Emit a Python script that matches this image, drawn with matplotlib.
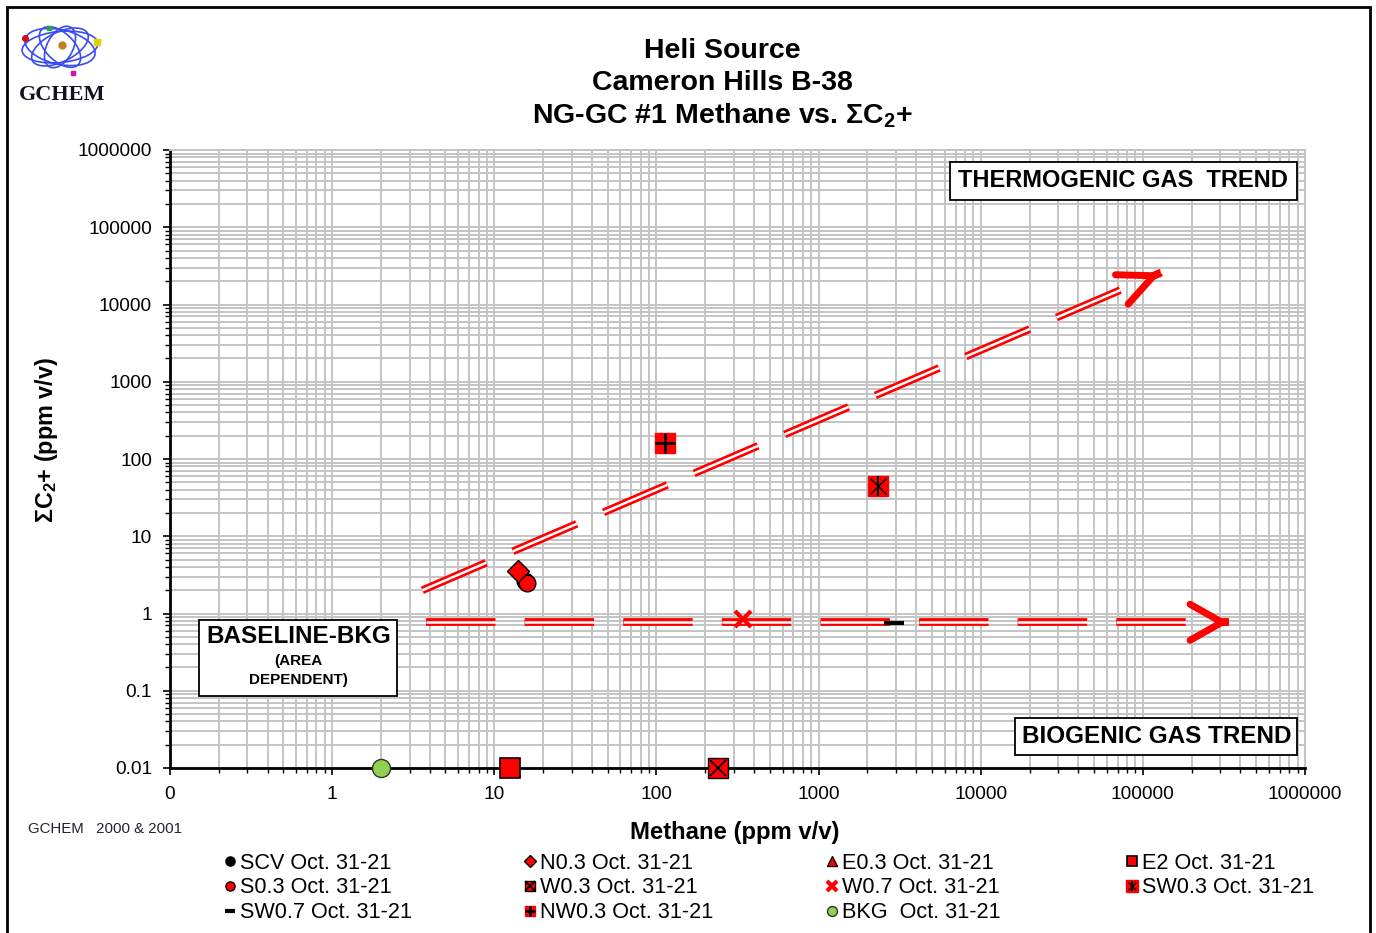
import matplotlib
matplotlib.use("Agg")
import matplotlib.pyplot as plt
import numpy as np
from matplotlib.patches import Rectangle, Ellipse
from matplotlib.ticker import FixedLocator, LogLocator, NullFormatter

plt.rcParams['font.family'] = ['Liberation Sans', 'DejaVu Sans']
plt.rcParams['mathtext.fontset'] = 'custom'
plt.rcParams['mathtext.rm'] = 'Liberation Sans'
plt.rcParams['mathtext.bf'] = 'Liberation Sans:bold'
plt.rcParams['lines.scale_dashes'] = False

# ---- data
scv_x, scv_y = [15.5], [2.6]
s03_x, s03_y = [15.9], [2.45]
sw07_x, sw07_y = [2900], [0.75]
n03_x, n03_y = [14.0], [3.5]
w03_x, w03_y = [240], [0.01]
nw03_x, nw03_y = [113], [160]
e03_x, e03_y = [12.8], [0.01]
w07_x, w07_y = [340], [0.85]
bkg_x, bkg_y = [2.0], [0.01]
e2_x, e2_y = [12.5], [0.01]
sw03_x, sw03_y = [2330], [45]

thermo_x, thermo_y = [3.6, 130000], [2.0, 26000]
bio_x, bio_y = [3.8, 340000], [0.77, 0.77]

xticks = [0.1, 1, 10, 100, 1000, 10000, 100000, 1000000]
xlabels = ['0', '1', '10', '100', '1000', '10000', '100000', '1000000']
yticks = [0.01, 0.1, 1, 10, 100, 1000, 10000, 100000, 1000000]
ylabels = ['0.01', '0.1', '1', '10', '100', '1000', '10000', '100000', '1000000']

RED = '#ff0000'

fig = plt.figure(figsize=(13.76, 9.33), dpi=100)
ax = fig.add_axes([170/1376, 1-768/933, 1135/1376, 618/933])

ax.set_xscale('log')
ax.set_yscale('log')
ax.set_xlim(0.1, 1e6)
ax.set_ylim(0.01, 1e6)

ax.xaxis.set_major_locator(FixedLocator(xticks))
ax.yaxis.set_major_locator(FixedLocator(yticks))
ax.xaxis.set_minor_locator(LogLocator(base=10, subs=np.arange(2, 10), numticks=100))
ax.yaxis.set_minor_locator(LogLocator(base=10, subs=np.arange(2, 10), numticks=100))
ax.xaxis.set_minor_formatter(NullFormatter())
ax.yaxis.set_minor_formatter(NullFormatter())
ax.set_xticklabels(xlabels)
ax.set_yticklabels(ylabels)
ax.tick_params(which='major', direction='out', length=5, width=1.2, labelsize=13.8, pad=8)
ax.tick_params(which='minor', direction='out', length=3.5, width=1.0)
ax.grid(which='both', color='#c4c4c4', lw=1.4)
ax.set_axisbelow(True)
for s in ['left', 'bottom']:
    ax.spines[s].set_linewidth(2)
for s in ['top', 'right']:
    ax.spines[s].set_color('#c4c4c4')
    ax.spines[s].set_linewidth(1.4)

# trend lines (double red dashed)
for lx, ly in [(thermo_x, thermo_y), (bio_x, bio_y)]:
    ax.plot(lx, ly, color=RED, lw=5.6, dashes=(50, 21), dash_capstyle='butt', zorder=3)
    ax.plot(lx, ly, color='white', lw=1.8, dashes=(50, 21), dash_capstyle='butt', zorder=3)

def arrow_head(lx, ly, hl, hw):
    lx0, lx1 = np.log10(lx)
    ly0, ly1 = np.log10(ly)
    t = 0.995
    src = (10**(lx0 + t*(lx1-lx0)), 10**(ly0 + t*(ly1-ly0)))
    ax.annotate('', xy=(lx[1], ly[1]), xytext=src,
                arrowprops=dict(arrowstyle='->,head_length=%g,head_width=%g' % (hl, hw),
                                lw=5, color=RED, shrinkA=0, shrinkB=0,
                                mutation_scale=10, capstyle='round', joinstyle='round'),
                zorder=3)

arrow_head(thermo_x, thermo_y, 2.5, 1.15)
arrow_head(bio_x, bio_y, 2.3, 1.3)

# samples
ek = dict(ls='none', clip_on=False, zorder=5)
h_scv, = ax.plot(scv_x, scv_y, marker='o', ms=12, mfc='black', mec='black', **ek)
h_s03, = ax.plot(s03_x, s03_y, marker='o', ms=12, mfc=RED, mec='black', mew=1, **ek)
h_sw07, = ax.plot(sw07_x, sw07_y, marker='_', ms=14, mec='black', mew=3, **ek)
h_n03, = ax.plot(n03_x, n03_y, marker='D', ms=11, mfc=RED, mec='black', mew=1, **ek)
h_e03, = ax.plot(e03_x, e03_y, marker='^', ms=12, mfc=RED, mec='black', mew=1, **ek)
h_w03a, = ax.plot(w03_x, w03_y, marker='s', ms=14, mfc=RED, mec='black', mew=1, **ek)
h_w03b, = ax.plot(w03_x, w03_y, marker='x', ms=12, mec='black', mew=1.2, **ek)
h_nw03a, = ax.plot(nw03_x, nw03_y, marker='s', ms=14, mfc=RED, mec=RED, **ek)
h_nw03b, = ax.plot(nw03_x, nw03_y, marker='+', ms=14, mec='black', mew=2, **ek)
h_w07, = ax.plot(w07_x, w07_y, marker='x', ms=12, mec=RED, mew=3, **ek)
h_bkg, = ax.plot(bkg_x, bkg_y, marker='o', ms=13, mfc='#92d050', mec='#333333', mew=1, **ek)
h_e2, = ax.plot(e2_x, e2_y, marker='s', ms=14, mfc=RED, mec='black', mew=1.2, **ek)
h_sw03a, = ax.plot(sw03_x, sw03_y, marker='s', ms=14.5, mfc=RED, mec=RED, **ek)
h_sw03b, = ax.plot(sw03_x, sw03_y, marker='x', ms=11, mec='black', mew=1, **ek)
h_sw03c, = ax.plot(sw03_x, sw03_y, marker='|', ms=14, mec='black', mew=1.5, **ek)

# annotation boxes
ax.add_patch(Rectangle((0.687, 0.919), 0.306, 0.062, transform=ax.transAxes,
                       fc='white', ec='black', lw=1.3, zorder=6))
ax.text(0.840, 0.950, 'THERMOGENIC GAS  TREND', transform=ax.transAxes, ha='center',
        va='center', fontsize=17, fontweight='bold', zorder=7)
ax.add_patch(Rectangle((0.7445, 0.021), 0.2485, 0.060, transform=ax.transAxes,
                       fc='white', ec='black', lw=1.3, zorder=6))
ax.text(0.869, 0.051, 'BIOGENIC GAS TREND', transform=ax.transAxes, ha='center',
        va='center', fontsize=17.5, fontweight='bold', zorder=7)
ax.add_patch(Rectangle((0.0256, 0.1165), 0.1744, 0.123, transform=ax.transAxes,
                       fc='white', ec='black', lw=1.3, zorder=6))
ax.text(0.113, 0.212, 'BASELINE-BKG', transform=ax.transAxes, ha='center',
        va='center', fontsize=17.5, fontweight='bold', zorder=7)
ax.text(0.113, 0.173, '(AREA', transform=ax.transAxes, ha='center',
        va='center', fontsize=11, fontweight='bold', zorder=7)
ax.text(0.113, 0.142, 'DEPENDENT)', transform=ax.transAxes, ha='center',
        va='center', fontsize=11, fontweight='bold', zorder=7)

# titles and labels
for yy, tt in [(0.945, 'Heli Source'), (0.911, 'Cameron Hills B-38'),
               (0.876, r'NG-GC #1 Methane vs. ΣC$_\mathbf{2}$+')]:
    fig.text(0.525, yy, tt, ha='center', va='center', fontsize=20.5, fontweight='bold')
fig.text(0.034, 0.528, r'ΣC$_\mathbf{2}$+ (ppm v/v)', rotation=90, ha='center',
         va='center', fontsize=16.8, fontweight='bold')
fig.text(0.534, 0.108, 'Methane (ppm v/v)', ha='center', va='center',
         fontsize=17.2, fontweight='bold')
fig.text(0.020, 0.112, 'GCHEM   2000 & 2001', ha='left', va='center', fontsize=10.8,
         color='#222233')

# legend, four columns
groups = [
    ([h_scv, h_s03, h_sw07], ['SCV Oct. 31-21', 'S0.3 Oct. 31-21', 'SW0.7 Oct. 31-21']),
    ([h_n03, (h_w03a, h_w03b), (h_nw03a, h_nw03b)],
     ['N0.3 Oct. 31-21', 'W0.3 Oct. 31-21', 'NW0.3 Oct. 31-21']),
    ([h_e03, h_w07, h_bkg], ['E0.3 Oct. 31-21', 'W0.7 Oct. 31-21', 'BKG  Oct. 31-21']),
    ([h_e2, (h_sw03a, h_sw03b, h_sw03c)], ['E2 Oct. 31-21', 'SW0.3 Oct. 31-21']),
]
for i, (hh, ll) in enumerate(groups):
    fig.legend(hh, ll, loc='upper left', bbox_to_anchor=([223, 523, 825, 1125][i]/1376, 0.086),
               frameon=False, fontsize=15.6, markerscale=0.55, handlelength=0.6,
               handletextpad=0.2, labelspacing=0.17, borderpad=0, borderaxespad=0)

# logo
lax = fig.add_axes([18/1376, 1-78/933, 84/1376, 62/933])
lax.set_xlim(-1.1, 1.1)
lax.set_ylim(-1.0, 1.0)
lax.set_axis_off()
for ang, w, h in [(8, 2.0, 1.0), (-18, 1.9, 1.1), (35, 1.7, 0.9), (-55, 1.5, 0.8), (70, 1.4, 0.7)]:
    lax.add_patch(Ellipse((0, 0), w, h, angle=ang, fill=False, ec='#3a4cf0', lw=1.2))
lax.plot([-0.92], [0.3], 'o', ms=4, color='#cc1111')
lax.plot([0.98], [0.15], 's', ms=4, color='#e0d000')
lax.plot([0.35], [-0.85], 's', ms=3, color='#d010b0')
lax.plot([-0.3], [0.62], 's', ms=2.5, color='#20a050')
lax.plot([0.05], [0.05], 'o', ms=5, color='#c08020')
fig.text(62/1376, 1-95/933, 'GCHEM', ha='center', va='center', fontsize=16,
         fontweight='bold', family=['Liberation Serif', 'DejaVu Serif'], color='#111122')

# outer frame
fig.add_artist(Rectangle((7/1376, -0.02), 1363/1376, 1.02-7/933, transform=fig.transFigure,
                         fill=False, ec='black', lw=2))

fig.savefig('out.png', dpi=100)
